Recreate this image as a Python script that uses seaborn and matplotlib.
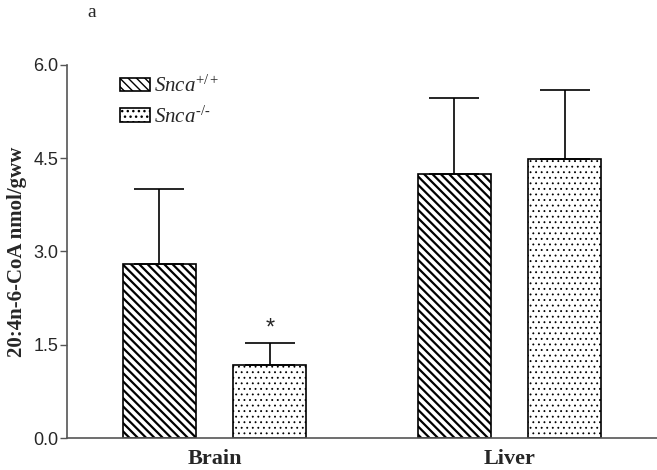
import numpy as np
import pandas as pd
import seaborn as sns
import matplotlib.pyplot as plt
from matplotlib.patches import Patch

# values
tissues = ['Brain', 'Liver']
genotypes = ['WT', 'KO']
wt_means = [2.80, 4.24]
ko_means = [1.18, 4.49]
wt_sd = [1.20, 1.23]
ko_sd = [0.35, 1.11]
yticks = [0.0, 1.5, 3.0, 4.5, 6.0]

df = pd.DataFrame({
    'tissue': tissues + tissues,
    'genotype': ['WT'] * 2 + ['KO'] * 2,
    'value': wt_means + ko_means,
    'err': wt_sd + ko_sd,
})

sns.set_style('white')
plt.rcParams['mathtext.fontset'] = 'custom'
plt.rcParams['mathtext.rm'] = 'Liberation Serif'
plt.rcParams['mathtext.it'] = 'Liberation Serif:italic'
plt.rcParams['hatch.color'] = 'black'

hatches = ['\\\\\\\\', '...']
hatch_lw = [1.6, 0.6]

fig = plt.figure(figsize=(6.57, 4.70), dpi=100)
ax = fig.add_axes([0.102, 0.068, 0.898, 0.794])

sns.barplot(data=df, x='tissue', y='value', hue='genotype', hue_order=genotypes,
            palette=['white', 'white'], edgecolor='black', linewidth=1.2,
            width=0.75, gap=0.34, errorbar=None, legend=False, ax=ax)

for cont, hatch, hlw, gen in zip(ax.containers, hatches, hatch_lw, genotypes):
    sub = df[df['genotype'] == gen]
    for bar, err in zip(cont, sub['err']):
        bar.set_hatch(hatch)
        bar.set_hatch_linewidth(hlw)
        x = bar.get_x() + bar.get_width() / 2
        top = bar.get_height()
        ax.errorbar(x, top, yerr=[[0], [err]], fmt='none', ecolor='black',
                    elinewidth=1.2, capsize=18, capthick=1.2, zorder=3)

# significance mark over the Brain knockout bar
ko_brain = ax.containers[1][0]
ax.text(ko_brain.get_x() + ko_brain.get_width() / 2, ko_means[0] + ko_sd[0] + 0.06, '*',
        ha='center', va='bottom', fontsize=17, family='Liberation Sans')

ax.set_xlim(-0.5, 1.5)
ax.set_ylim(0, 6.0)
ax.set_yticks(yticks)
ax.set_yticklabels([f'{t:.1f}' for t in yticks], family='Liberation Sans', fontsize=13)
ax.tick_params(axis='y', direction='out', length=5, width=1, color='#555555', left=True, pad=1)
ax.tick_params(axis='x', length=0, pad=8)
for lab in ax.get_xticklabels():
    lab.set_family('Liberation Serif')
    lab.set_fontweight('bold')
    lab.set_fontsize(16)
ax.set_xlabel('')
ax.set_ylabel('20:4n-6-CoA nmol/gww', family='Liberation Serif', fontweight='bold',
              fontsize=15, labelpad=5)
sns.despine(ax=ax)
for s in ['left', 'bottom']:
    ax.spines[s].set_color('#555555')
    ax.spines[s].set_linewidth(1.2)

handles = []
for hatch, hlw in zip(hatches, hatch_lw):
    p = Patch(facecolor='white', edgecolor='black', linewidth=1.2, hatch=hatch)
    p.set_hatch_linewidth(hlw)
    handles.append(p)
leg = ax.legend(handles, [r'$\mathit{Snca}^{+/+}$', '$\\mathit{Snca}^{\u2010/\u2010}$'],
                loc='upper left', bbox_to_anchor=(0.09, 0.974), frameon=False,
                fontsize=15, handlelength=1.45, handleheight=0.6,
                handletextpad=0.2, labelspacing=0.45, borderpad=0, borderaxespad=0)

fig.text(0.133, 0.992, 'a', family='Liberation Serif', fontsize=14, va='top')

fig.savefig('out.png', dpi=100)
